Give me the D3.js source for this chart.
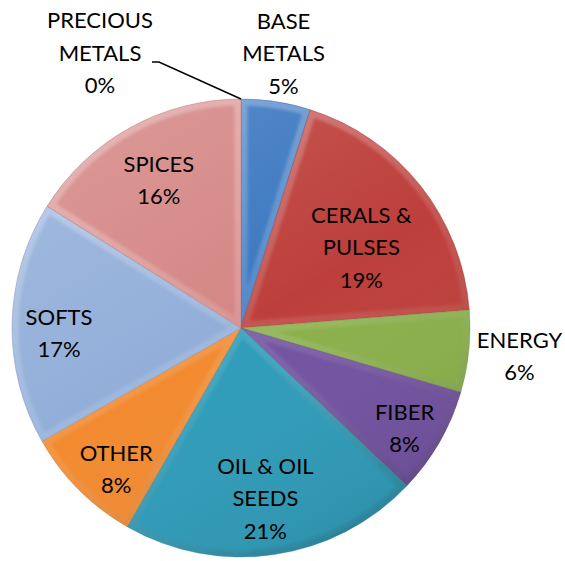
<!DOCTYPE html>
<html><head><meta charset="utf-8">
<script src="https://cdn.jsdelivr.net/npm/d3@7"></script>
<style>html,body{margin:0;padding:0;background:#fff}svg{display:block}</style>
</head><body>
<script>
// ---- data ----
const categories = ["BASE METALS","CERALS & PULSES","ENERGY","FIBER","OIL & OIL SEEDS","OTHER","SOFTS","SPICES","PRECIOUS METALS"];
const values = [4.9, 18.9, 5.8, 7.6, 21.2, 8.5, 17.2, 16.1, 0];
const labelLines = [["BASE","METALS"],["CERALS &","PULSES"],["ENERGY"],["FIBER"],["OIL & OIL","SEEDS"],["OTHER"],["SOFTS"],["SPICES"],["PRECIOUS","METALS"]];
const percentLabels = ["5%","19%","6%","8%","21%","8%","17%","16%","0%"];
const colors = ["#3a77c0","#bd3f3b","#8ab04a","#7252a0","#2f9cb9","#f28a30","#92aed9","#d48684","#9aa5b8"];

// ---- layout ----
const W = 565, H = 561, cx = 241, cy = 328, R = 229;
const labelRadius = [278, 146, 280, 190, 170, 186, 182, 170, 0];
const labelNudge = [[0,0],[6,10],[0,-1],[-1,5],[0,2],[7,10],[0,9],[0,1],[0,0]];
const lineH = 32.5, fontSize = 22;

const svg = d3.select("body").append("svg").attr("width", W).attr("height", H);
const defs = svg.append("defs");
const g = svg.append("g").attr("transform", `translate(${cx},${cy})`);

const data = categories.map((c,i)=>({name:c, value:values[i], i}));
const pie = d3.pie().value(d=>d.value).sort(null);
const arcs = pie(data);
const arc = d3.arc().innerRadius(0).outerRadius(R);

// shading gradients
const lg = defs.append("linearGradient").attr("id","shade").attr("gradientUnits","userSpaceOnUse")
  .attr("x1",-R*0.6).attr("y1",-R).attr("x2",R*0.6).attr("y2",R);
lg.append("stop").attr("offset","0").attr("stop-color","#fff").attr("stop-opacity",0.15);
lg.append("stop").attr("offset","0.5").attr("stop-color","#fff").attr("stop-opacity",0);
lg.append("stop").attr("offset","1").attr("stop-color","#000").attr("stop-opacity",0.1);

const bev = defs.append("linearGradient").attr("id","bevel").attr("gradientUnits","userSpaceOnUse")
  .attr("x1",-R*0.5).attr("y1",-R).attr("x2",R*0.5).attr("y2",R);
bev.append("stop").attr("offset","0").attr("stop-color","#fff").attr("stop-opacity",0.3);
bev.append("stop").attr("offset","0.55").attr("stop-color","#fff").attr("stop-opacity",0.1);
bev.append("stop").attr("offset","1").attr("stop-color","#000").attr("stop-opacity",0.14);

const blur = defs.append("filter").attr("id","soft").attr("x","-10%").attr("y","-10%").attr("width","120%").attr("height","120%");
blur.append("feGaussianBlur").attr("stdDeviation",1.6);

const slices = g.selectAll("g.slice").data(arcs.filter(a=>a.data.value>0)).join("g").attr("class","slice");
slices.each(function(d){
  defs.append("clipPath").attr("id","clip"+d.data.i).append("path").attr("d", arc(d));
});
slices.append("path").attr("d", arc).attr("fill", d=>colors[d.data.i]);
slices.append("path").attr("d", arc).attr("fill","url(#shade)");
slices.append("g").attr("clip-path", d=>`url(#clip${d.data.i})`)
  .append("path").attr("d", arc).attr("fill","none")
  .attr("stroke","url(#bevel)").attr("stroke-width",13).attr("stroke-linejoin","miter")
  .attr("filter","url(#soft)");
slices.append("path").attr("d", arc).attr("fill","none")
  .attr("stroke", d=>d3.color(colors[d.data.i]).darker(0.5)).attr("stroke-width",0.8)
  .attr("stroke-opacity",0.5);

// labels
const font = "Lato, 'Open Sans', sans-serif";
arcs.forEach(a=>{
  const i = a.data.i;
  const lines = labelLines[i].concat([percentLabels[i]]);
  let x, y;
  if (a.data.value > 0) {
    const mid = (a.startAngle + a.endAngle)/2;
    x = cx + Math.sin(mid)*labelRadius[i] + labelNudge[i][0];
    y = cy - Math.cos(mid)*labelRadius[i] + labelNudge[i][1];
  } else {
    x = 100; y = 53;
  }
  const t = svg.append("text").attr("font-family",font).attr("font-size",fontSize)
    .attr("fill","#000").attr("text-anchor","middle");
  lines.forEach((ln,k)=>{
    t.append("tspan").attr("x",x).attr("y", y + (k-(lines.length-1)/2)*lineH + fontSize*0.36).text(ln);
  });
  if (a.data.value === 0) {
    const p = [cx + Math.sin(a.startAngle)*R, cy - Math.cos(a.startAngle)*R];
    svg.append("path").attr("d", d3.line()([[152,62],[159,62],p]))
      .attr("fill","none").attr("stroke","#000").attr("stroke-width",1.5);
  }
});
</script>
</body></html>
